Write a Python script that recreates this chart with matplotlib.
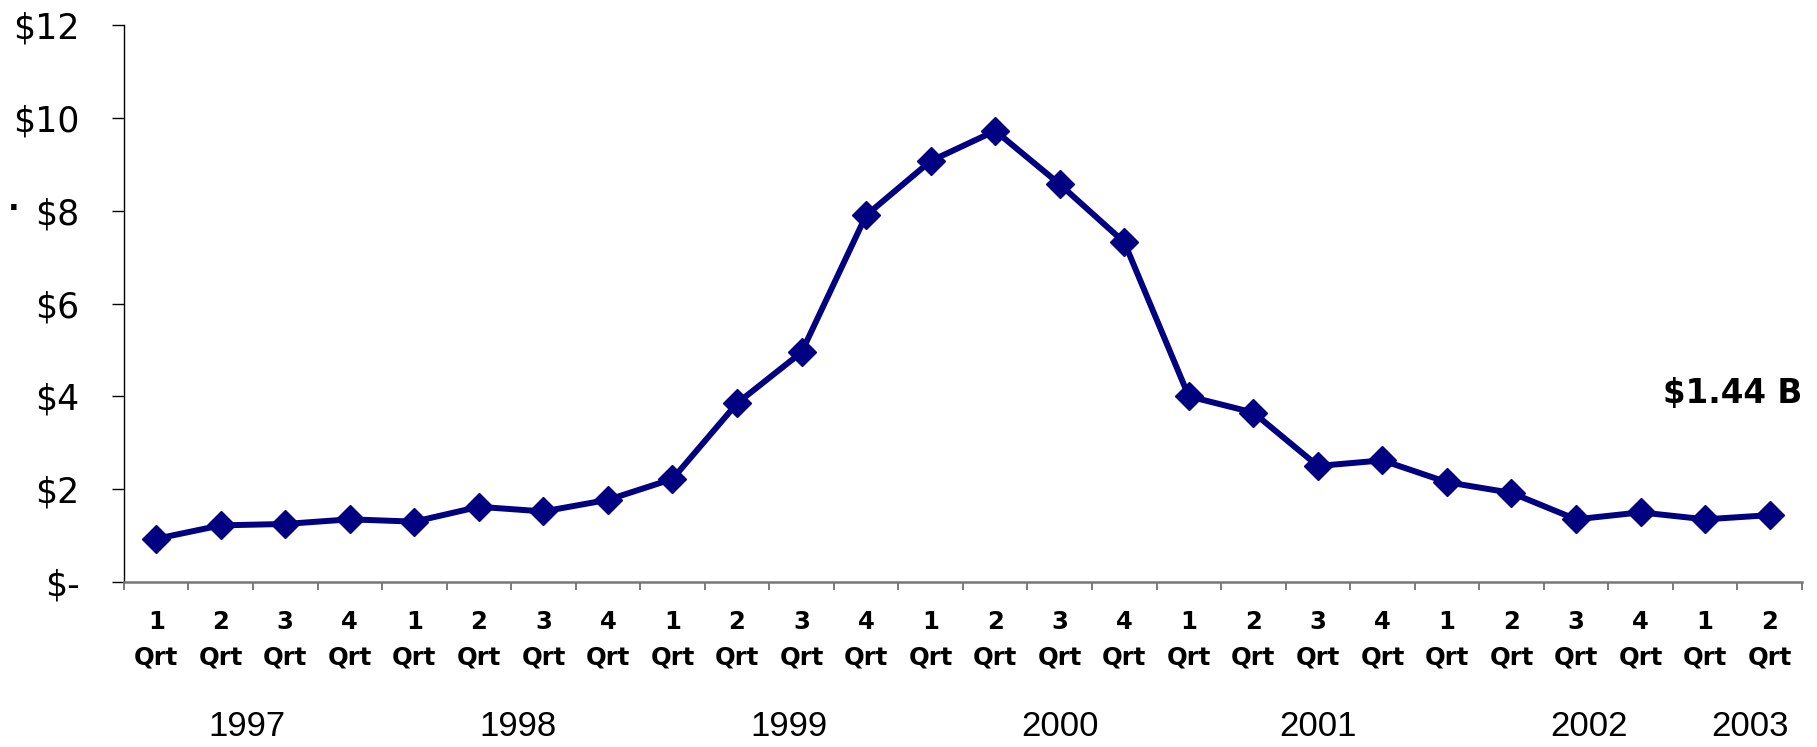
import matplotlib
matplotlib.use('Agg')
import numpy as np
import matplotlib.pyplot as plt
from matplotlib.ticker import FixedLocator

# quarterly values, $ billions
quarters = ['1', '2', '3', '4'] * 6 + ['1', '2']
values = [0.93, 1.22, 1.25, 1.35, 1.30, 1.62, 1.52, 1.77, 2.22, 3.85, 4.95, 7.90, 9.07,
          9.72, 8.57, 7.32, 4.00, 3.65, 2.50, 2.62, 2.15, 1.92, 1.35, 1.50, 1.35, 1.44]
years = ['1997', '1998', '1999', '2000', '2001', '2002', '2003']
year_x = [1.4, 5.6, 9.8, 14.0, 18.0, 22.2, 24.7]
yticks = [0, 2, 4, 6, 8, 10, 12]
ytick_labels = ['$-', '$2', '$4', '$6', '$8', '$10', '$12']
end_label = '$1.44 B'

navy = '#000080'

fig = plt.figure(figsize=(18.17, 7.47), dpi=100)
ax = fig.add_axes([0.0682, 0.2209, 0.9917 - 0.0682, 0.9665 - 0.2209])

x = np.arange(len(values))
ax.plot(x, values, color=navy, lw=4.3, marker='D', ms=14.5, mfc=navy, mec=navy, zorder=3)

ax.set_xlim(-0.5, len(values) - 0.5)
ax.set_ylim(0, 12)

# y axis
ax.set_yticks(yticks)
ax.set_yticklabels(ytick_labels, fontsize=25)
ax.tick_params(axis='y', direction='out', length=9, width=1, pad=23)

# x axis: labels at centres, ticks at boundaries
ax.set_xticks(x)
ax.set_xticklabels([q + '\nQrt' for q in quarters], fontsize=17.5, fontweight='bold',
                   linespacing=1.6)
ax.tick_params(axis='x', which='major', length=0, pad=20)
ax.xaxis.set_minor_locator(FixedLocator(np.arange(-0.5, len(values), 1.0)))
ax.tick_params(axis='x', which='minor', direction='out', length=6, width=1.2, color='#666666')

for s in ['top', 'right']:
    ax.spines[s].set_visible(False)
ax.spines['left'].set_linewidth(1)
ax.spines['bottom'].set_color('#777777')
ax.spines['bottom'].set_linewidth(1.8)

# year labels under the quarters
trans = matplotlib.transforms.blended_transform_factory(ax.transData, fig.transFigure)
for xx, yr in zip(year_x, years):
    ax.text(xx, 0.027, yr, transform=trans, ha='center', va='center', fontsize=25,
            family='Liberation Sans')

ax.text(len(values) - 0.5, 4.07, end_label, ha='right', va='center', fontsize=23.5,
        fontweight='bold', clip_on=False)

fig.text(0.0077, 0.72, '·', fontsize=22, fontweight='bold', ha='center', va='center')

fig.savefig('out.png', dpi=100)
